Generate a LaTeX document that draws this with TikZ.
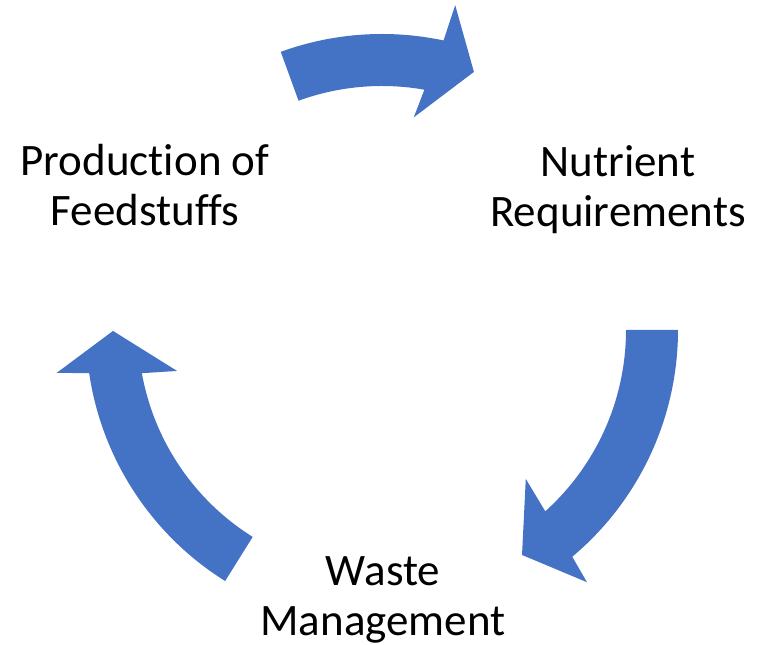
\documentclass[tikz,border=0pt]{standalone}
\usepackage{fontspec}
\setmainfont[RawFeature={-liga;-dlig}]{Carlito}
\definecolor{arrowblue}{HTML}{4472C4}
\begin{document}
\begin{tikzpicture}[x=1pt,y=1pt,
  arr/.style={fill=arrowblue},
  lbl/.style={align=center,inner sep=0pt,anchor=base,font=\fontsize{45}{50}\selectfont}]
\useasboundingbox (0,0) rectangle (764,645);
\coordinate (C) at (382,315);
% top arrow
\fill[arr] ([shift={(110:296pt)}]C) arc[start angle=110,end angle=78,radius=296pt]
  -- ([shift={(77.3:333pt)}]C) -- ([shift={(70.4:274pt)}]C) -- ([shift={(81.5:215pt)}]C)
  -- ([shift={(80:244pt)}]C) arc[start angle=80,end angle=110,radius=244pt] -- cycle;
% right arrow
\fill[arr] ([shift={(0:296pt)}]C) arc[start angle=0,end angle=-50,radius=296pt]
  -- ([shift={(-50.9:325pt)}]C) -- ([shift={(-58.1:265pt)}]C) -- ([shift={(-46:207pt)}]C)
  -- ([shift={(-48:244pt)}]C) arc[start angle=-48,end angle=0,radius=244pt] -- cycle;
% left arrow
\fill[arr] ([shift={(238:296pt)}]C) arc[start angle=238,end angle=188.4,radius=296pt]
  -- ([shift={(187.5:328pt)}]C) -- ([shift={(180.2:269pt)}]C) -- ([shift={(191.3:209pt)}]C)
  -- ([shift={(190.2:244pt)}]C) arc[start angle=190.2,end angle=238,radius=244pt] -- cycle;
\node[lbl] (prod) at (145,419) {Production of\\Feedstuffs};
\node[lbl] (nutr) at (618,418) {Nutrient\\Requirements};
\node[lbl] (waste) at (383,9) {Waste\\Management};
\end{tikzpicture}
\end{document}
